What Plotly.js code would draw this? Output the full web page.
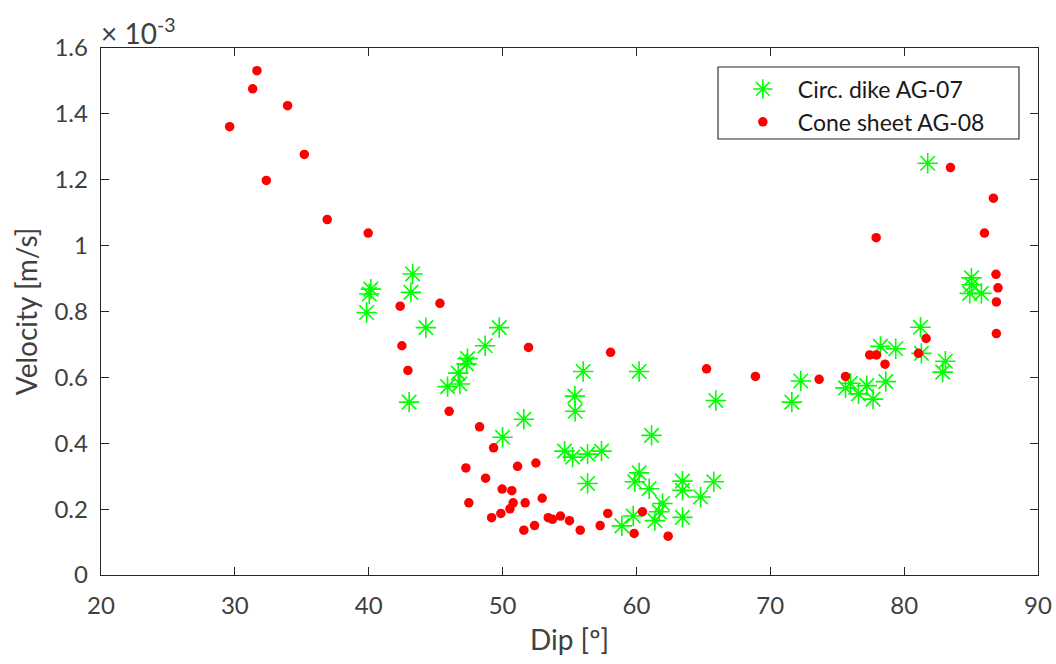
<!DOCTYPE html>
<html>
<head>
<meta charset="utf-8">
<script src="https://cdn.plot.ly/plotly-3.0.1.min.js"></script>
<style>
  html, body { margin: 0; padding: 0; background: #fff; }
  #chart { width: 1056px; height: 664px; }
</style>
</head>
<body>
<div id="chart"></div>
<script>
// Dip angle [deg] and flow velocity (in units of 1e-3 m/s) per sample

// Circular dike AG-07
const dikeDip = [40.16, 40.04, 39.84, 43.28, 43.15, 44.27, 49.75, 48.70, 47.38, 47.31,
  46.69, 46.81, 45.89, 43.02, 51.59, 50.00, 55.40, 55.42, 56.02, 60.20,
  65.93, 61.13, 54.63, 55.23, 56.35, 57.39, 56.35, 60.20, 59.88, 60.95,
  63.44, 63.44, 64.79, 65.78, 61.95, 61.70, 61.38, 59.76, 58.91, 63.44,
  72.28, 71.61, 75.62, 75.99, 76.59, 77.21, 77.68, 78.63, 78.23, 79.37,
  81.22, 81.29, 83.08, 82.88, 84.90, 85.77, 85.05, 85.03, 81.76];
const dikeVel = [0.868, 0.853, 0.797, 0.914, 0.858, 0.751, 0.751, 0.696, 0.657, 0.641,
  0.613, 0.580, 0.572, 0.525, 0.473, 0.418, 0.543, 0.497, 0.618, 0.618,
  0.530, 0.424, 0.376, 0.358, 0.367, 0.376, 0.278, 0.310, 0.283, 0.262,
  0.285, 0.257, 0.237, 0.283, 0.217, 0.192, 0.165, 0.179, 0.149, 0.175,
  0.589, 0.525, 0.568, 0.582, 0.550, 0.575, 0.534, 0.587, 0.694, 0.687,
  0.752, 0.673, 0.649, 0.616, 0.855, 0.855, 0.881, 0.902, 1.250];

// Cone sheet AG-08
const coneDip = [29.61, 31.33, 31.65, 33.94, 35.19, 32.35, 36.90, 39.96, 42.35, 45.32,
  42.48, 42.93, 51.94, 46.01, 48.28, 49.33, 47.26, 51.12, 52.49, 48.73,
  49.97, 50.69, 47.48, 50.79, 51.69, 52.96, 50.55, 49.87, 49.18, 53.41,
  53.73, 54.33, 55.00, 52.39, 51.59, 55.80, 57.29, 57.86, 59.83, 60.45,
  62.37, 58.07, 65.24, 68.89, 73.65, 75.62, 77.43, 77.93, 78.57, 77.91,
  81.64, 81.07, 83.46, 86.67, 86.00, 86.86, 87.01, 86.89, 86.89];
const coneVel = [1.361, 1.476, 1.531, 1.425, 1.277, 1.198, 1.079, 1.038, 0.816, 0.825,
  0.696, 0.621, 0.691, 0.497, 0.450, 0.386, 0.325, 0.330, 0.340, 0.294,
  0.261, 0.256, 0.219, 0.219, 0.219, 0.233, 0.201, 0.187, 0.174, 0.174,
  0.169, 0.179, 0.165, 0.150, 0.136, 0.136, 0.150, 0.187, 0.126, 0.192,
  0.118, 0.676, 0.626, 0.603, 0.594, 0.603, 0.668, 0.668, 0.640, 1.024,
  0.718, 0.673, 1.237, 1.144, 1.038, 0.913, 0.872, 0.829, 0.733];

const xTicks = [20, 30, 40, 50, 60, 70, 80, 90];
const yTicks = [0, 0.2, 0.4, 0.6, 0.8, 1.0, 1.2, 1.4, 1.6];
const yTickText = ['0', '0.2', '0.4', '0.6', '0.8', '1', '1.2', '1.4', '1.6'];

const FONT = 'Lato, "Open Sans", "Noto Sans", sans-serif';
const TEXT = '#404040';
const AXIS = '#262626';

const traces = [
  {
    x: dikeDip, y: dikeVel, type: 'scatter', mode: 'markers',
    name: 'Circ. dike AG-07',
    marker: { symbol: 'asterisk-open', size: 17, color: '#00ff00',
              line: { color: '#00ff00', width: 1.6 } }
  },
  {
    x: coneDip, y: coneVel, type: 'scatter', mode: 'markers',
    name: 'Cone sheet AG-08',
    marker: { symbol: 'circle', size: 9.5, color: '#ff0000',
              line: { width: 0 } }
  }
];

const axisCommon = {
  showline: true, linecolor: AXIS, linewidth: 1.3, mirror: 'allticks',
  ticks: 'inside', ticklen: 8, tickwidth: 1.1, tickcolor: AXIS,
  showgrid: false, zeroline: false,
  tickfont: { family: FONT, size: 24, color: TEXT }
};

const layout = {
  width: 1056, height: 664,
  paper_bgcolor: '#ffffff', plot_bgcolor: '#ffffff',
  margin: { l: 101, r: 18, t: 48, b: 89 },
  font: { family: FONT, color: TEXT },
  showlegend: true,
  xaxis: Object.assign({}, axisCommon, {
    range: [20, 90], tickmode: 'array', tickvals: xTicks,
    ticklabelstandoff: 9,
    title: { text: 'Dip [º]', font: { family: FONT, size: 28, color: TEXT }, standoff: 12 }
  }),
  yaxis: Object.assign({}, axisCommon, {
    range: [0, 1.6], tickmode: 'array', tickvals: yTicks, ticktext: yTickText,
    ticklabelstandoff: 7,
    title: { text: 'Velocity [m/s]', font: { family: FONT, size: 28, color: TEXT }, standoff: 8 }
  }),
  // legend entries without a frame; the frame is drawn as a shape
  legend: {
    x: 0.669, y: 0.963, xanchor: 'left', yanchor: 'top',
    bgcolor: 'rgba(0,0,0,0)', borderwidth: 0,
    font: { family: FONT, size: 23, color: '#1a1a1a' },
    itemwidth: 60, tracegroupgap: 0
  },
  shapes: [{
    type: 'rect', xref: 'paper', yref: 'paper',
    x0: 0.6585, x1: 0.9797, y0: 0.8274, y1: 0.964,
    line: { color: AXIS, width: 1.1 }, fillcolor: 'rgba(0,0,0,0)'
  }],
  annotations: [{
    xref: 'paper', yref: 'paper', x: 0, y: 1, xanchor: 'left', yanchor: 'bottom',
    xshift: -2, yshift: -4, showarrow: false,
    text: '× 10<sup>-3</sup>', font: { family: FONT, size: 28, color: TEXT }
  }]
};

Plotly.newPlot('chart', traces, layout, { displayModeBar: false, staticPlot: true });
</script>
</body>
</html>
